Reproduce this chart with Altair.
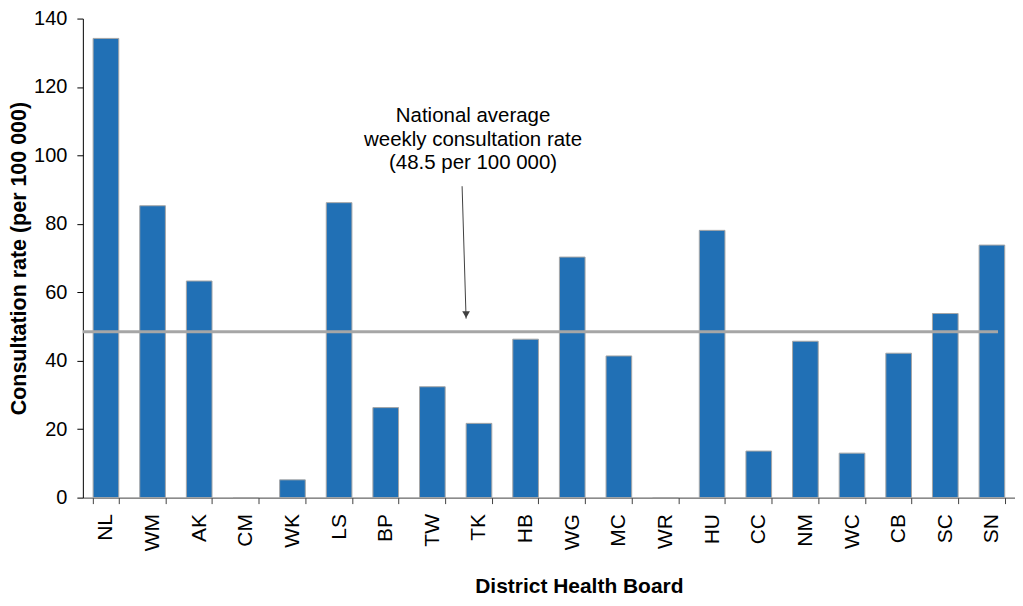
import altair as alt
import pandas as pd

boards = ["NL", "WM", "AK", "CM", "WK", "LS", "BP", "TW", "TK", "HB",
          "WG", "MC", "WR", "HU", "CC", "NM", "WC", "CB", "SC", "SN"]
rates = [134.2, 85.3, 63.3, 0, 5.2, 86.2, 26.3, 32.4, 21.7, 46.3,
         70.3, 41.4, 0, 78.1, 13.6, 45.7, 13.0, 42.2, 53.8, 73.8]
national_avg = 48.5
annotation = ["National average", "weekly consultation rate", "(48.5 per 100 000)"]
arrow_from = 91.0
arrow_to = 52.3

df = pd.DataFrame({"board": boards, "rate": rates})

FONT = "Liberation Sans"
W, H = 934, 480

bars = alt.Chart(df).mark_bar(color="#2170B5", stroke="#A6A6A6", strokeWidth=1).encode(
    x=alt.X("board:N", sort=boards, title="District Health Board",
            scale=alt.Scale(paddingInner=0.45, paddingOuter=0.22),
            axis=alt.Axis(labelAngle=-90, labelAlign="right", labelBaseline="middle",
                          labelFontSize=21, labelFont=FONT, labelColor="#000000",
                          labelPadding=10, tickBand="extent", tickSize=6,
                          tickColor="#404040", domainColor="#404040",
                          titleFont=FONT, titleFontSize=21, titleFontWeight="bold",
                          titleColor="#000000", titleY=95, titleX=497,
                          titleAlign="center", titleBaseline="alphabetic")),
    y=alt.Y("rate:Q", title="Consultation rate (per 100 000)",
            scale=alt.Scale(domain=[0, 140], nice=False),
            axis=alt.Axis(values=[0, 20, 40, 60, 80, 100, 120, 140], grid=False,
                          labelFontSize=20, labelFont=FONT, labelColor="#000000",
                          labelPadding=10, tickSize=6, tickColor="#000000",
                          domainColor="#000000",
                          titleFont=FONT, titleFontSize=21.5, titleFontWeight="bold",
                          titleColor="#000000", titleX=-63, titleBaseline="middle")),
)

avg_line = alt.Chart(pd.DataFrame({"v": [national_avg]})).mark_rule(
    color="#A6A6A6", strokeWidth=3).encode(
    y="v:Q", x=alt.value(0), x2=alt.value(917))

arrow_df = pd.DataFrame({"y1": [arrow_from], "y2": [arrow_to]})
arrow = alt.Chart(arrow_df).mark_rule(color="#404040", strokeWidth=1).encode(
    y="y1:Q", y2="y2:Q", x=alt.value(380), x2=alt.value(384))
head = alt.Chart(pd.DataFrame({"y": [arrow_to + 1.2]})).mark_point(
    shape="triangle-down", filled=True, color="#404040", size=60, opacity=1).encode(
    y="y:Q", x=alt.value(384))

text_df = pd.DataFrame({"t": [annotation]})
label = alt.Chart(text_df).mark_text(
    font=FONT, fontSize=20.5, color="#000000", align="center", baseline="alphabetic",
    lineHeight=23.5).encode(
    text="t", x=alt.value(391), y=alt.value(104))

chart = alt.layer(bars, avg_line, arrow, head, label).properties(
    width=W, height=H,
    autosize=alt.AutoSizeParams(type="none"),
    padding={"left": 75, "top": 10, "right": 0, "bottom": 100},
).configure_view(stroke=None)

chart.save("out.html", embed_options={"renderer": "svg", "actions": False})
